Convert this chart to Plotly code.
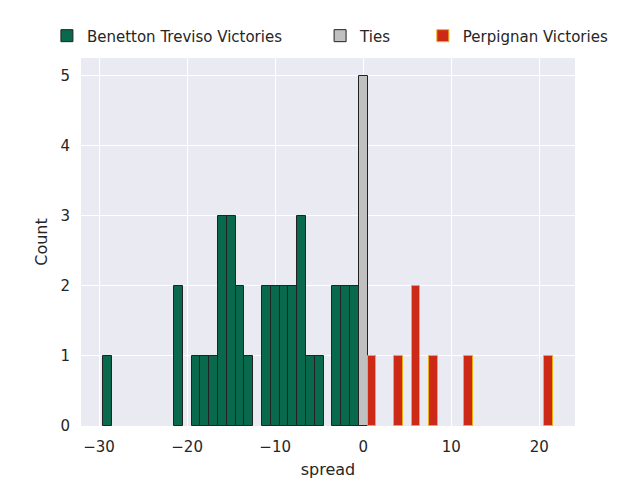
import plotly.graph_objects as go

# Data (spread value -> count)
benetton_spread = [-29, -21, -19, -18, -17, -16, -15, -14, -13, -11, -10, -9, -8, -7, -6, -5, -3, -2, -1]
benetton_count = [1, 2, 1, 1, 1, 3, 3, 2, 1, 2, 2, 2, 2, 3, 1, 1, 2, 2, 2]
ties_spread = [0]
ties_count = [5]
perpignan_spread = [1, 4, 6, 8, 12, 21]
perpignan_count = [1, 1, 2, 1, 1, 1]

fig = go.Figure()
fig.add_trace(go.Bar(x=benetton_spread, y=benetton_count, width=1,
                     name="Benetton Treviso Victories", legend="legend",
                     marker=dict(color="#08694c", line=dict(color="#222222", width=1))))
fig.add_trace(go.Bar(x=ties_spread, y=ties_count, width=1, name="Ties", legend="legend2",
                     marker=dict(color="#c0c0c0", line=dict(color="#222222", width=1))))
fig.add_trace(go.Bar(x=perpignan_spread, y=perpignan_count, width=1,
                     name="Perpignan Victories", legend="legend3",
                     marker=dict(color="#cc2a16", line=dict(color="#eab010", width=1))))

leg_common = dict(orientation="h", y=1.06, yanchor="middle", xanchor="left",
                  font=dict(size=15), bgcolor="rgba(0,0,0,0)", itemwidth=30)

fig.update_layout(
    width=640, height=480,
    margin=dict(l=81, r=65, t=58, b=54, autoexpand=False),
    paper_bgcolor="white", plot_bgcolor="#eaeaf2",
    font=dict(family="DejaVu Sans", size=15, color="#262626"),
    showlegend=True,
    bargap=0,
    legend=dict(x=-0.069, **leg_common),
    legend2=dict(x=0.484, **leg_common),
    legend3=dict(x=0.692, **leg_common),
    xaxis=dict(range=[-32.05, 24.05], tickvals=[-30, -20, -10, 0, 10, 20],
               ticktext=["\u221230", "\u221220", "\u221210", "0", "10", "20"],
               showgrid=True, gridcolor="white", gridwidth=1.3, zeroline=False,
               showline=False, ticks="", automargin=False, ticklabelstandoff=10,
               title=dict(text="spread", font=dict(size=16), standoff=8)),
    yaxis=dict(range=[0, 5.25], tickvals=[0, 1, 2, 3, 4, 5],
               showgrid=True, gridcolor="white", gridwidth=1.3, zeroline=False,
               showline=False, ticks="", automargin=False, ticklabelstandoff=10,
               title=dict(text="Count", font=dict(size=16), standoff=8)),
)

fig.write_html("out.html", post_script="document.body.style.margin='0';",
               config={"displayModeBar": False})
